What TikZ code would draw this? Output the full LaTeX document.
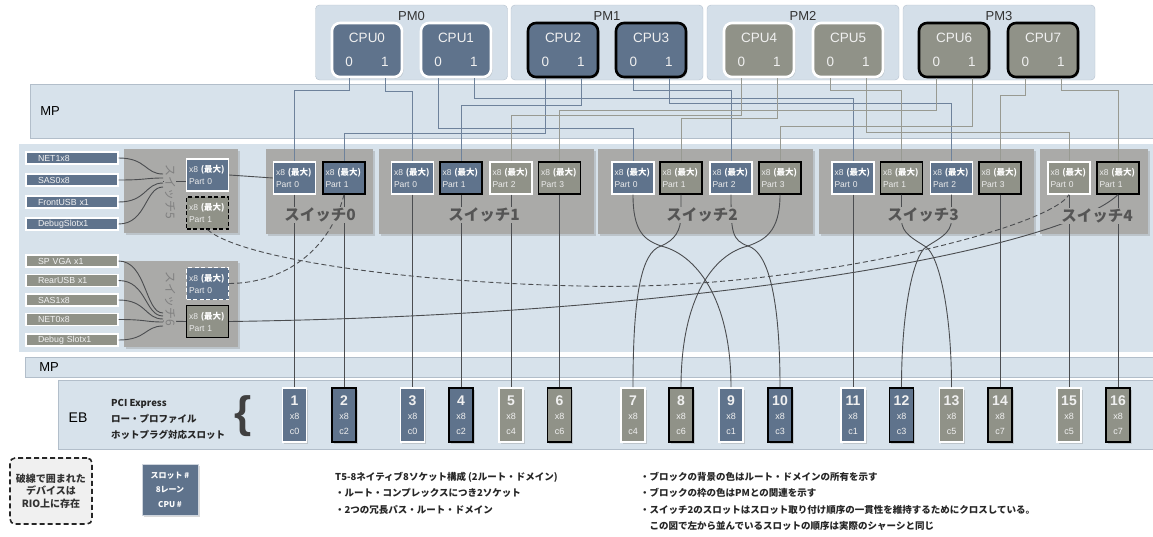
\documentclass[tikz,border=0pt]{standalone}
\usepackage{fontspec}
\setmainfont{Liberation Sans}
\newfontfamily\jpfont{Noto Sans CJK JP}
\usetikzlibrary{shadows}
\definecolor{panelblue}{RGB}{215,226,235}
\definecolor{paneledge}{RGB}{178,190,202}
\definecolor{pmfill}{RGB}{212,223,233}
\definecolor{pmedge}{RGB}{182,194,206}
\definecolor{cpublue}{RGB}{95,115,140}
\definecolor{cpugray}{RGB}{144,146,136}
\definecolor{swgray}{RGB}{170,170,168}
\definecolor{swtext}{RGB}{85,85,85}
\definecolor{wireblue}{RGB}{110,130,155}
\definecolor{wiregray}{RGB}{152,154,146}
\definecolor{wiredark}{RGB}{75,77,80}
\tikzset{
    panel/.style={draw=paneledge, fill=panelblue},
    pmbox/.style={draw=pmedge, fill=pmfill, rounded corners=4pt, minimum width=192pt, minimum height=75pt},
    cpubox/.style={rounded corners=8pt, line width=2.6pt, minimum width=70pt, minimum height=54pt, inner sep=0pt, align=center, text=white!94!black, font=\fontsize{13.5}{15}\selectfont, drop shadow={opacity=0.25, shadow xshift=1.5pt, shadow yshift=-1.5pt}},
    swbox/.style={fill=swgray, inner sep=0pt, drop shadow={opacity=0.3, shadow xshift=2pt, shadow yshift=-2pt}},
    partbox/.style={line width=1.3pt, minimum height=32pt, text width=37pt, inner xsep=2.5pt, inner ysep=3pt, align=left, text=white!85!gray, font=\fontsize{8.5}{12}\selectfont},
    devbox/.style={draw=white, line width=1.1pt, minimum height=12pt, text width=68pt, inner xsep=12pt, inner ysep=1pt, align=left, text=white!90!gray, font=\fontsize{8.8}{9}\selectfont},
    swlabel/.style={fill=swgray, inner sep=1pt, text=swtext, font=\jpfont\bfseries\fontsize{15.5}{16}\selectfont},
    sidelabel/.style={fill=swgray, inner sep=1pt, text=black!50, rotate=-90, font=\jpfont\fontsize{12}{12}\selectfont},
    slotbox/.style={line width=1.8pt, minimum width=24pt, minimum height=54pt, inner sep=0pt, align=center, text=white!88!gray, font=\fontsize{9}{14.5}\selectfont, drop shadow={opacity=0.3, shadow xshift=1.5pt, shadow yshift=-1.5pt}},
    bus/.style={line width=0.9pt},
    link/.style={draw=wiredark, line width=0.9pt},
    spare/.style={link, dash pattern=on 5pt off 3pt},
    note/.style={anchor=west, inner sep=0pt, align=left, text=black!85, font=\jpfont\bfseries\fontsize{9.5}{16.3}\selectfont}
}

\begin{document}
\begin{tikzpicture}[x=1pt, y=-1pt]
\useasboundingbox (0,0) rectangle (1153,536);

% processor modules
\foreach \i/\x in {0/411.5, 1/607, 2/803, 3/999} {
    \node[pmbox] (pm\i) at (\x,42.5) {};
    \node[font=\fontsize{13}{15}\selectfont, text=black!80] (pmname\i) at (\x,16) {PM\i};
}
\foreach \i/\x/\col/\rim in {0/367/cpublue/white, 1/456/cpublue/white, 2/563/cpublue/black, 3/651/cpublue/black, 4/759/cpugray/white, 5/848/cpugray/white, 6/954/cpugray/black, 7/1043/cpugray/black}
    \node[cpubox, fill=\col, draw=\rim] (cpu\i) at (\x,50) {CPU\i\\[9pt]0\hspace{28pt}1};

% boards
\draw[panel] (30,84) rectangle (1160,138);
\draw[panel, draw=white, line width=1.2pt] (18,143) rectangle (1160,353);
\draw[panel] (25,357) rectangle (1160,377);
\draw[panel] (58,380) rectangle (1160,449);
\node[font=\fontsize{13}{15}\selectfont] (mptop) at (50,111) {MP};
\node[font=\fontsize{13}{15}\selectfont] (mpbot) at (49,367) {MP};
\node[font=\fontsize{14}{16}\selectfont] (eb) at (78,418) {EB};

% switches
\node[swbox, minimum width=114pt, minimum height=84pt] (sw5) at (181,191) {};
\node[swbox, minimum width=114pt, minimum height=86pt] (sw6) at (181,304) {};
\node[swbox, minimum width=107pt, minimum height=85pt] (sw0) at (319.5,191.5) {};
\node[swbox, minimum width=215pt, minimum height=85pt] (sw1) at (486.5,191.5) {};
\node[swbox, minimum width=215pt, minimum height=85pt] (sw2) at (705.5,191.5) {};
\node[swbox, minimum width=215pt, minimum height=85pt] (sw3) at (926.5,191.5) {};
\node[swbox, minimum width=108pt, minimum height=85pt] (sw4) at (1094,191.5) {};

\foreach \nm/\x/\y/\pn/\col/\rim in {s0p0/294.5/178/0/cpublue/white, s0p1/344/178/1/cpublue/black, s1p0/412.5/178/0/cpublue/white, s1p1/461/178/1/cpublue/black, s1p2/511/178/2/cpugray/white, s1p3/559.5/178/3/cpugray/black, s2p0/633/178/0/cpublue/white, s2p1/681/178/1/cpugray/black, s2p2/731/178/2/cpublue/white, s2p3/780/178/3/cpugray/black, s3p0/853/178/0/cpublue/white, s3p1/901.5/178/1/cpugray/black, s3p2/951.5/178/2/cpublue/white, s3p3/1000/178/3/cpugray/black, s4p0/1069/178/0/cpugray/white, s4p1/1118/178/1/cpugray/black, s5p0/207.5/175/0/cpublue/white, s6p1/207.5/321.5/1/cpugray/black}
    \node[partbox, fill=\col, draw=\rim] (\nm) at (\x,\y) {x8 {\jpfont\bfseries\color{white}(最大)}\\Part \pn};
\node[partbox, fill=cpugray, draw=black, dash pattern=on 4pt off 2.5pt] (s5p1) at (207.5,213) {x8 {\jpfont\bfseries\color{white}(最大)}\\Part 1};
\node[partbox, fill=cpublue, draw=white, dash pattern=on 4pt off 2.5pt] (s6p0) at (207.5,283.5) {x8 {\jpfont\bfseries\color{white}(最大)}\\Part 0};

% devices
\foreach \nm/\yy/\txt in {net1/158/NET1x8, sas0/180/SAS0x8, fusb/202/FrontUSB x1, dbg5/224/DebugSlotx1}
    \node[devbox, fill=cpublue] (\nm) at (72,\yy) {\txt};
\foreach \nm/\yy/\txt in {spvga/261/SP VGA x1, rusb/280.5/RearUSB x1, sas1/300/SAS1x8, net0/319.5/NET0x8, dbg6/340/Debug Slotx1}
    \node[devbox, fill=cpugray] (\nm) at (72,\yy) {\txt};

% slots
\foreach \sn/\x/\cn/\col/\rim in {1/294.5/0/cpublue/white, 2/344/2/cpublue/black, 3/412.5/0/cpublue/white, 4/461/2/cpublue/black, 5/511/4/cpugray/white, 6/559.5/6/cpugray/black, 7/633/4/cpugray/white, 8/681/6/cpugray/black, 9/731/1/cpublue/white, 10/780/3/cpublue/black, 11/853/1/cpublue/white, 12/901.5/3/cpublue/black, 13/951.5/5/cpugray/white, 14/1000/7/cpugray/black, 15/1069/5/cpugray/white, 16/1118/7/cpugray/black}
    \node[slotbox, fill=\col, draw=\rim] (slot\sn) at (\x,415) {{\fontsize{14}{14}\selectfont\bfseries \sn}\\x8\\c\cn};
\node[note, font=\jpfont\bfseries\fontsize{9.5}{16}\selectfont] (ebnote) at (111,419) {PCI Express\\ロー・プロファイル\\ホットプラグ対応スロット};
\node[font=\bfseries\fontsize{44}{44}\selectfont, text=black!75] (brace) at (243,416) {\{};

% CPU ports to switch ports
\foreach \cp/\p/\dd/\tg/\wc in {0/-18/12/s0p0/wireblue, 0/18/13/s1p0/wireblue, 1/-18/50/s2p0/wireblue, 1/18/20/s3p0/wireblue, 2/-18/55/s0p1/wireblue, 2/18/27/s1p1/wireblue, 3/-18/12/s2p2/wireblue, 3/18/25/s3p2/wireblue, 4/-18/37/s1p2/wiregray, 4/18/40/s2p1/wiregray, 5/-18/12/s3p1/wiregray, 5/18/54/s4p0/wiregray, 6/-18/32/s1p3/wiregray, 6/18/48/s2p3/wiregray, 7/-18/17/s3p3/wiregray, 7/18/12/s4p1/wiregray}
    \draw[bus, draw=\wc] ([xshift=\p pt]cpu\cp.south) -- ++(0,\dd) -| (\tg.north);

% switch ports to slots
\foreach \src/\dst in {s0p0/slot1, s0p1/slot2, s1p0/slot3, s1p1/slot4, s1p2/slot5, s1p3/slot6, s3p0/slot11, s3p3/slot14, s4p0/slot15, s4p1/slot16}
    \draw[link] (\src.south) -- (\dst.north);
\coordinate (xa) at (661,246);
\coordinate (xb) at (748,246);
\coordinate (xc) at (926,247);
\draw[link] (s2p0.south) .. controls +(0,38) and +(-16,-6) .. (xa) .. controls +(34,8) and +(0,-90) .. (slot9.north);
\draw[link] (s2p1.south) -- ++(0,20) .. controls +(0,16) and +(14,-6) .. (xa) .. controls +(-20,6) and +(0,-90) .. (slot7.north);
\draw[link] (s2p2.south) .. controls +(0,38) and +(-16,-6) .. (xb) .. controls +(20,6) and +(0,-90) .. (slot10.north);
\draw[link] (s2p3.south) .. controls +(0,38) and +(16,-6) .. (xb) .. controls +(-34,8) and +(0,-90) .. (slot8.north);
\draw[link] (s3p1.south) -- ++(0,25) .. controls +(0,14) and +(-12,-8) .. (xc) .. controls +(12,8) and +(0,-80) .. (slot13.north);
\draw[link] (s3p2.south) -- ++(0,25) .. controls +(0,14) and +(12,-8) .. (xc) .. controls +(-12,8) and +(0,-80) .. (slot12.north);

% devices into switch 5 / 6
\coordinate (hub5) at (163,181);
\coordinate (hub6) at (163,321);
\foreach \nm/\yy in {net1/174, sas0/178, fusb/183, dbg5/187}
    \draw[link] (\nm.east) .. controls +(28,0) and +(-18,0) .. (163,\yy);
\foreach \nm/\yy in {spvga/313, rusb/316, sas1/319, net0/322, dbg6/326}
    \draw[link] (\nm.east) .. controls +(28,0) and +(-18,0) .. (163,\yy);
\draw[link] (hub5) -- (hub5 -| s5p0.west);
\draw[link] (hub6) -- (s6p1.west);

% uplinks of switch 5 / 6
\coordinate (sparemid) at (580,286);
\draw[link] (s5p0.east) -- (s0p0.west);
\draw[link] (s6p1.east) .. controls (700,315) and (1060,250) .. (s4p1.south);
\draw[spare] (s5p1.south) .. controls (240,258) and (400,282) .. (sparemid) .. controls (800,292) and (1050,228) .. (s4p0.south);
\draw[spare] (s6p0.east) .. controls (285,283) and (330,250) .. (s0p1.south);

% switch names
\node[sidelabel] (sw5name) at (170,192) {スイッチ5};
\node[sidelabel] (sw6name) at (170,299) {スイッチ6};
\node[swlabel] (sw0name) at (320,215) {スイッチ0};
\node[swlabel] (sw1name) at (484,215) {スイッチ1};
\node[swlabel] (sw2name) at (702,215) {スイッチ2};
\node[swlabel] (sw3name) at (923,215) {スイッチ3};
\node[swlabel] (sw4name) at (1097,216) {スイッチ4};

% keys and notes
\node[draw=black!85, dash pattern=on 5pt off 3pt, line width=1.6pt, rounded corners=5pt, fill=black!6, minimum width=82pt, minimum height=66pt, align=center, text=black!80, font=\jpfont\bfseries\fontsize{10}{12.5}\selectfont] (riokey) at (51,491) {破線で囲まれた\\デバイスは\\RIO上に存在};
\node[fill=cpublue, draw=white!70!cpublue, line width=1pt, minimum width=56pt, minimum height=51pt, align=center, text=white, font=\jpfont\bfseries\fontsize{8}{14.5}\selectfont, drop shadow={opacity=0.3, shadow xshift=2pt, shadow yshift=-2pt}] (slotkey) at (170,489.5) {スロット \#\\8レーン\\CPU \#};
\node[note] (cfgnote) at (335,493) {T5-8ネイティブ8ソケット構成 (2ルート・ドメイン)\\・ルート・コンプレックスにつき2ソケット\\・2つの冗長パス・ルート・ドメイン};
\node[note] (colnote) at (640,501.5) {・ブロックの背景の色はルート・ドメインの所有を示す\\・ブロックの枠の色はPMとの関連を示す\\・スイッチ2のスロットはスロット取り付け順序の一貫性を維持するためにクロスしている。\\\phantom{・}この図で左から並んでいるスロットの順序は実際のシャーシと同じ};
\end{tikzpicture}
\end{document}
